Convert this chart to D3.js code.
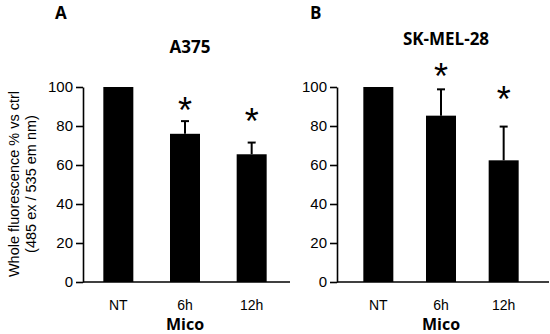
<!DOCTYPE html>
<html>
<head>
<meta charset="utf-8">
<script src="https://cdn.jsdelivr.net/npm/d3@7"></script>
<style>
  body { margin: 0; background: #fff; }
  svg { display: block; }
  .tick text { font-family: "Liberation Sans", Arial, sans-serif; font-size: 15px; fill: #000; }
  .bold { font-family: "Open Sans", "Liberation Sans", sans-serif; font-weight: bold; fill: #000; }
</style>
</head>
<body>
<div id="chart"></div>
<script>
var categories = ['NT', '6h', '12h'];
var yTicks = [0, 20, 40, 60, 80, 100];
var a375Means = [100, 76, 65.5];
var a375Err = [0, 6.5, 6];
var a375Star = [null, 91, 85.4];
var skmelMeans = [100, 85.3, 62.4];
var skmelErr = [0, 13.5, 17.3];
var skmelStar = [null, 108.6, 96.7];

var width = 550, height = 334;
var svg = d3.select('#chart').append('svg')
  .attr('width', width)
  .attr('height', height);

function drawPanel(opt) {
  var y = d3.scaleLinear().domain([0, 100]).range([282, 87]);
  var x = d3.scalePoint().domain(categories).range(opt.xRange).padding(0.5);
  var barW = 30;
  var g = svg.append('g');

  // panel letter + title
  g.append('text').attr('class', 'bold')
    .attr('x', opt.letterX).attr('y', 19)
    .style('font-size', '17px')
    .text(opt.letter);
  g.append('text').attr('class', 'bold')
    .attr('x', opt.titleX).attr('y', opt.titleY)
    .attr('text-anchor', 'middle')
    .style('font-size', '17px')
    .text(opt.title);

  // y axis
  var yAxis = g.append('g')
    .attr('transform', 'translate(' + opt.axisX + ',0)')
    .call(d3.axisLeft(y).tickValues(yTicks).tickSize(7).tickSizeOuter(0).tickPadding(3));
  yAxis.select('.domain').attr('stroke', '#000').attr('stroke-width', 1.6);
  yAxis.selectAll('.tick line').attr('stroke', '#000').attr('stroke-width', 1.6);

  // x axis line
  g.append('line')
    .attr('x1', opt.axisX).attr('x2', opt.axisEnd)
    .attr('y1', y(0)).attr('y2', y(0))
    .attr('stroke', '#000').attr('stroke-width', 1.6);

  // bars
  g.selectAll('rect.bar').data(opt.means).enter().append('rect')
    .attr('class', 'bar')
    .attr('x', function(d, i) { return x(categories[i]) - barW / 2; })
    .attr('y', function(d) { return y(d); })
    .attr('width', barW)
    .attr('height', function(d) { return y(0) - y(d); })
    .attr('fill', '#000');

  // error bars (upper only)
  opt.means.forEach(function(m, i) {
    if (!opt.err[i]) return;
    var cx = x(categories[i]);
    g.append('line')
      .attr('x1', cx).attr('x2', cx)
      .attr('y1', y(m)).attr('y2', y(m + opt.err[i]))
      .attr('stroke', '#000').attr('stroke-width', 2);
    g.append('line')
      .attr('x1', cx - 4).attr('x2', cx + 4)
      .attr('y1', y(m + opt.err[i])).attr('y2', y(m + opt.err[i]))
      .attr('stroke', '#000').attr('stroke-width', 2);
  });

  // asterisks (centred on the star value)
  var starSize = 36;
  opt.star.forEach(function(s, i) {
    if (s == null) return;
    g.append('text')
      .attr('x', x(categories[i]))
      .attr('y', y(s) + starSize * 0.52)
      .attr('text-anchor', 'middle')
      .style('font-family', '"Liberation Sans", Arial, sans-serif')
      .style('font-size', starSize + 'px')
      .text('*');
  });

  // x tick labels
  categories.forEach(function(c) {
    g.append('text')
      .attr('x', x(c)).attr('y', 310)
      .attr('text-anchor', 'middle')
      .style('font-family', '"Liberation Sans", Arial, sans-serif')
      .style('font-size', '14px')
      .text(c);
  });

  g.append('text').attr('class', 'bold')
    .attr('x', x('6h')).attr('y', 330)
    .attr('text-anchor', 'middle')
    .style('font-size', '16px')
    .text('Mico');
}

drawPanel({
  letter: 'A', letterX: 55, title: 'A375', titleX: 190, titleY: 53,
  axisX: 83, axisEnd: 290, xRange: [85, 285],
  means: a375Means, err: a375Err, star: a375Star
});
drawPanel({
  letter: 'B', letterX: 310, title: 'SK-MEL-28', titleX: 446, titleY: 45,
  axisX: 337, axisEnd: 549, xRange: [347, 535],
  means: skmelMeans, err: skmelErr, star: skmelStar
});

// y axis label for panel A
var yl = svg.append('g')
  .attr('transform', 'translate(0,184) rotate(-90)')
  .style('font-family', '"Liberation Sans", Arial, sans-serif')
  .style('font-size', '14.5px')
  .attr('text-anchor', 'middle');
yl.append('text').attr('x', 0).attr('y', 19).text('Whole fluorescence % vs ctrl');
yl.append('text').attr('x', 0).attr('y', 36).text('(485 ex / 535 em nm)');
</script>
</body>
</html>
